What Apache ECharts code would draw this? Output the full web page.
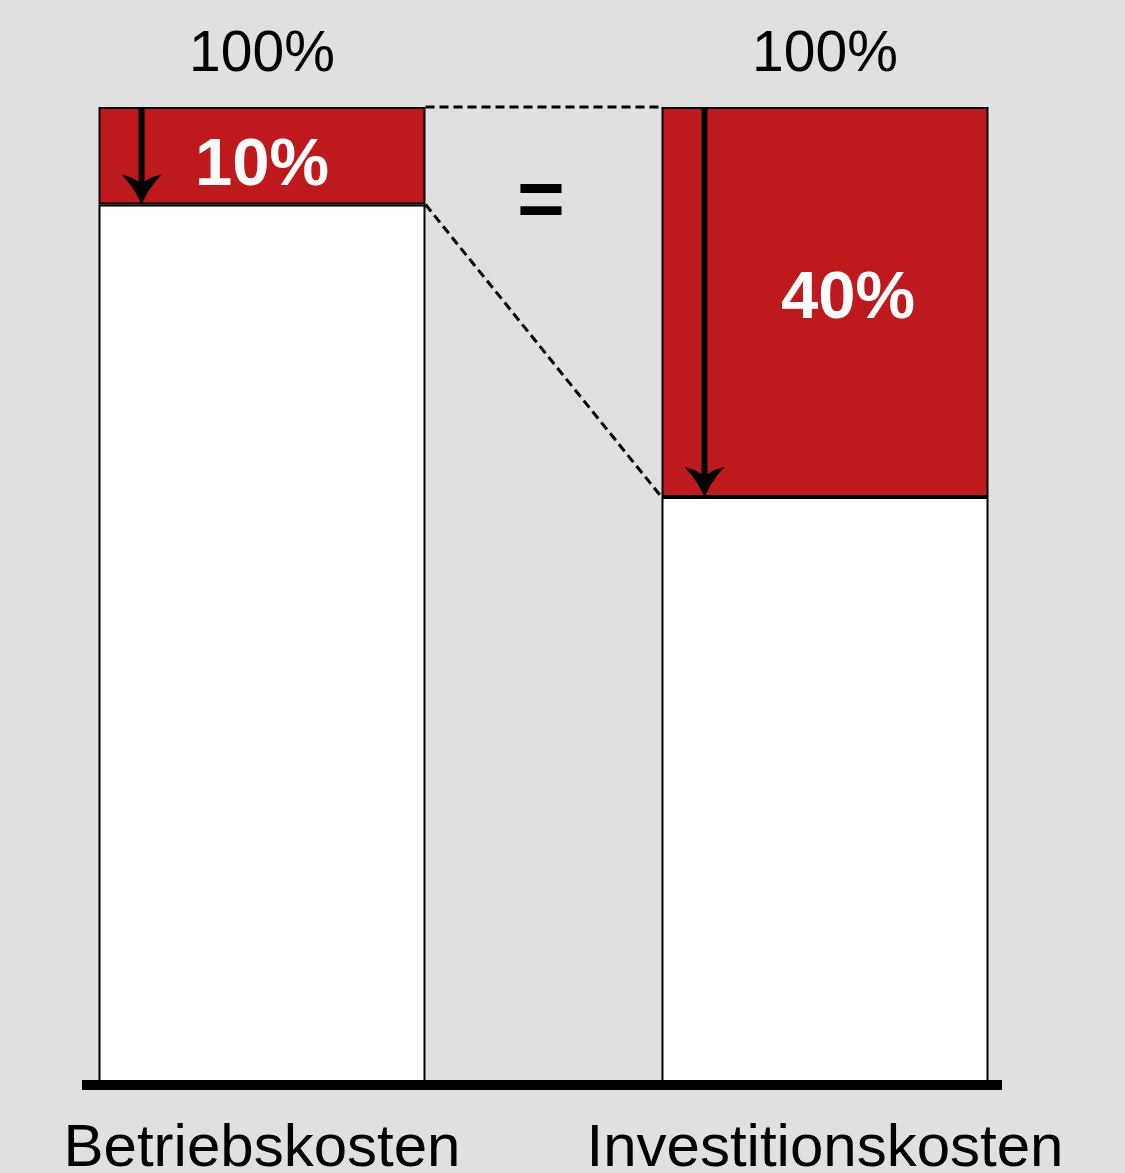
<!DOCTYPE html>
<html>
<head>
<meta charset="utf-8">
<script src="https://cdn.jsdelivr.net/npm/echarts@6/dist/echarts.min.js"></script>
<style>
  html, body { margin: 0; padding: 0; background: #e0e0e0; }
  #chart { width: 1125px; height: 1173px; }
</style>
</head>
<body>
<div id="chart"></div>
<script>
// Kategorien
var categories = ['Betriebskosten', 'Investitionskosten'];
// Anteil in % (weißer Rest unten, roter Anteil oben)
var restShare = [90, 60];
var redShare = [10, 40];
var redLabels = ['10%', '40%'];

var RED = '#be1a1e';
var BAR_W = 327;
var FONT = '"Liberation Sans", Arial, sans-serif';

var chart = echarts.init(document.getElementById('chart'));

function totalOf(i) {
  return restShare[i] + redShare[i];
}

var totalsData = categories.map(function (c, i) { return [i, totalOf(i)]; });
var arrowData = categories.map(function (c, i) { return [i, totalOf(i), restShare[i]]; });
// dashed connectors: tops and red boundaries of both bars
var connectorData = [
  [0, totalOf(0), 1, totalOf(1)],
  [0, restShare[0], 1, restShare[1]]
];

var option = {
  backgroundColor: '#e0e0e0',
  animation: false,
  grid: {
    left: -19.5, right: 18.5, top: 107, bottom: 91,
    containLabel: false,
    outerBoundsMode: 'none'
  },
  xAxis: {
    type: 'category',
    data: categories,
    axisLine: { show: false },
    axisTick: { show: false },
    axisLabel: { color: '#000', fontSize: 60, fontFamily: FONT, margin: 37, interval: 0 }
  },
  yAxis: {
    type: 'value',
    min: 0,
    max: 100,
    show: false
  },
  graphic: [
    // baseline
    { type: 'rect', shape: { x: 82, y: 1080, width: 920, height: 10 }, style: { fill: '#000' }, z: 100 },
    { type: 'text', left: 517, top: 163, style: { text: '=', font: 'bold 82px ' + FONT, fill: '#000' } }
  ],
  series: [
    {
      name: 'Rest',
      type: 'bar',
      stack: 'k',
      barWidth: BAR_W,
      data: restShare,
      itemStyle: { color: '#fff', borderColor: '#000', borderWidth: 2 }
    },
    {
      name: 'Anteil',
      type: 'bar',
      stack: 'k',
      barWidth: BAR_W,
      data: redShare.map(function (v, i) {
        return {
          value: v,
          label: { formatter: redLabels[i], offset: i === 0 ? [0, 11] : [23, -2] }
        };
      }),
      itemStyle: { color: RED, borderColor: '#000', borderWidth: 2 },
      label: {
        show: true,
        position: 'inside',
        color: '#fff',
        fontSize: 67,
        fontWeight: 'bold',
        fontFamily: FONT
      }
    },
    {
      name: 'Verbinder',
      type: 'custom',
      data: connectorData,
      z: 5,
      renderItem: function (params, api) {
        var p0 = api.coord([api.value(0), api.value(1)]);
        var p1 = api.coord([api.value(2), api.value(3)]);
        return {
          type: 'line',
          shape: { x1: p0[0] + BAR_W / 2, y1: p0[1], x2: p1[0] - BAR_W / 2, y2: p1[1] },
          style: { stroke: '#000', lineWidth: 3, lineDash: [9, 5] }
        };
      }
    },
    {
      name: 'Pfeile',
      type: 'custom',
      data: arrowData,
      z: 6,
      renderItem: function (params, api) {
        var top = api.coord([api.value(0), api.value(1)]);
        var bot = api.coord([api.value(0), api.value(2)]);
        var x = top[0] - BAR_W / 2 + 43;
        var yt = top[1];
        var yb = bot[1];
        return {
          type: 'group',
          children: [
            { type: 'rect', shape: { x: x - 3, y: yt, width: 6, height: yb - yt - 16 }, style: { fill: '#000' } },
            {
              type: 'polygon',
              shape: {
                points: [
                  [x, yb], [x - 6, yb - 12], [x - 13, yb - 22], [x - 20, yb - 30],
                  [x - 10, yb - 27], [x - 3, yb - 23], [x + 3, yb - 23], [x + 10, yb - 27],
                  [x + 20, yb - 30], [x + 13, yb - 22], [x + 6, yb - 12]
                ]
              },
              style: { fill: '#000' }
            }
          ]
        };
      }
    },
    {
      name: 'Summe',
      type: 'custom',
      data: totalsData,
      renderItem: function (params, api) {
        var p = api.coord([api.value(0), api.value(1)]);
        return {
          type: 'text',
          style: {
            text: api.value(1) + '%',
            x: p[0],
            y: p[1] - 52,
            align: 'center',
            verticalAlign: 'middle',
            font: '57px ' + FONT,
            fill: '#000'
          }
        };
      }
    }
  ]
};

chart.setOption(option);
</script>
</body>
</html>
